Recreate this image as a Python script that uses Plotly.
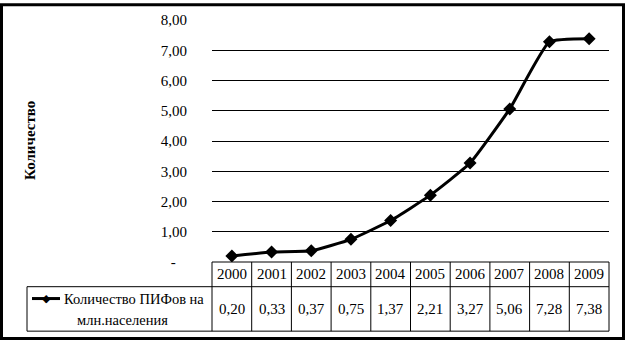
import plotly.graph_objects as go

years = [2000, 2001, 2002, 2003, 2004, 2005, 2006, 2007, 2008, 2009]
values = [0.20, 0.33, 0.37, 0.75, 1.37, 2.21, 3.27, 5.06, 7.28, 7.38]
ytick_vals = [0, 1, 2, 3, 4, 5, 6, 7, 8]
ytick_text = ["-\u00a0\u00a0\u00a0", "1,00", "2,00", "3,00", "4,00", "5,00", "6,00", "7,00", "8,00"]
series_name = "Количество ПИФов на"
series_name2 = "млн.населения"
y_title = "Количество"

W, H = 627, 342
L, R, T, B = 212, 18, 17, 80
PW = W - L - R
PH = H - T - B
FONT = "Liberation Serif, Times New Roman, serif"

def px(xp):
    return (xp - L) / PW

def py(yp):
    return (H - B - yp) / PH

fig = go.Figure()
fig.add_trace(go.Scatter(
    x=years, y=values, mode="lines+markers",
    line=dict(color="black", width=3, shape="spline", smoothing=0.4),
    marker=dict(symbol="diamond", size=10, color="black"),
    showlegend=False,
))

shapes = []
line = dict(color="black", width=1)
# table horizontal lines
shapes.append(dict(type="line", xref="paper", yref="paper", x0=0, x1=1, y0=py(262), y1=py(262), line=line))
shapes.append(dict(type="line", xref="paper", yref="paper", x0=px(27), x1=1, y0=py(287), y1=py(287), line=line))
shapes.append(dict(type="line", xref="paper", yref="paper", x0=px(27), x1=1, y0=py(332), y1=py(332), line=line))
shapes.append(dict(type="line", xref="paper", yref="paper", x0=px(27), x1=px(27), y0=py(287), y1=py(332), line=line))
n = len(years)
for k in range(n + 1):
    xx = k / n
    shapes.append(dict(type="line", xref="paper", yref="paper", x0=xx, x1=xx, y0=py(262), y1=py(332), line=line))
# outer border
shapes.append(dict(type="rect", xref="paper", yref="paper", x0=px(1.5), x1=px(623.5), y0=py(1.5), y1=py(339.5),
                   line=dict(color="black", width=3)))
# legend icon
shapes.append(dict(type="line", xref="paper", yref="paper", x0=px(32), x1=px(60), y0=py(299), y1=py(299),
                   line=dict(color="black", width=3)))

def ann(x, y, text, xref="paper", xanchor="center", size=15, family=FONT, angle=0):
    return dict(x=x, y=y, xref=xref, yref="paper", text=text, showarrow=False,
                xanchor=xanchor, yanchor="middle", textangle=angle,
                font=dict(family=family, size=size, color="black"))

annotations = []
for yr, v in zip(years, values):
    annotations.append(ann(yr, py(274), str(yr), xref="x"))
    annotations.append(ann(yr, py(310), f"{v:.2f}".replace(".", ","), xref="x"))
annotations.append(ann(px(46), py(299), "◆", family="DejaVu Sans", size=11))
annotations.append(ann(px(62), py(299), series_name, xanchor="left", size=14.5))
annotations.append(ann(px(122), py(321), series_name2, size=14.5))
annotations.append(ann(px(30), 0.5, "<b>" + y_title + "</b>", angle=-90, size=15))

fig.update_layout(
    width=W, height=H,
    margin=dict(l=L, r=R, t=T, b=B, pad=0),
    paper_bgcolor="white", plot_bgcolor="white",
    shapes=shapes, annotations=annotations,
    xaxis=dict(range=[1999.5, 2009.5], showticklabels=False, showgrid=False, zeroline=False,
               showline=False, fixedrange=True),
    yaxis=dict(range=[0, 8], tickvals=ytick_vals, ticktext=ytick_text, showgrid=True,
               gridcolor="black", gridwidth=1, zeroline=False, showline=False,
               ticklabelstandoff=24, tickfont=dict(family=FONT, size=15, color="black")),
    font=dict(family=FONT, size=15, color="black"),
)

fig.write_html("out.html", config={"displayModeBar": False},
               post_script="document.body.style.margin='0';document.body.style.overflow='hidden';")
